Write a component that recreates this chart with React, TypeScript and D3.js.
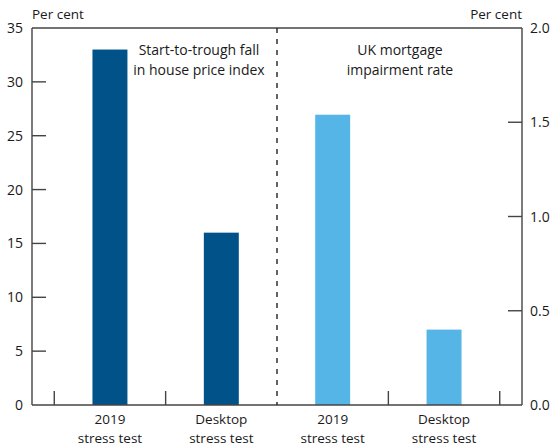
import React from "react";
import * as d3 from "d3";

const categories = ["2019 stress test (HPI)", "Desktop stress test (HPI)", "2019 stress test (impairment)", "Desktop stress test (impairment)"];
const categoryLines = [["2019", "stress test"], ["Desktop", "stress test"], ["2019", "stress test"], ["Desktop", "stress test"]];
const houseFallValues = [33, 16]; // left axis, per cent
const impairmentValues = [1.54, 0.4]; // right axis, per cent
const leftTicks = [0, 5, 10, 15, 20, 25, 30, 35];
const rightTicks = [0, 0.5, 1.0, 1.5, 2.0];

const W = 553;
const H = 446;
const L = 32;
const R = 522;
const T = 28;
const B = 405;
const FONT = "'Open Sans', 'Noto Sans', sans-serif";
const AXIS = "#444";
const TEXT = "#1a1a1a";
const DARK = "#005288";
const LIGHT = "#56B5E7";

export default function App() {
  const x = d3.scaleBand<string>().domain(categories).range([L, R]).paddingInner(0).paddingOuter(0.2);
  const yL = d3.scaleLinear().domain([0, 35]).range([B, T]);
  const yR = d3.scaleLinear().domain([0, 2]).range([B, T]);
  const step = x.step();
  const bw = step * 0.314;
  const edges = [...categories.map((c) => x(c)!), x(categories[3])! + step];
  const mid = edges[2];

  const bars = [
    ...houseFallValues.map((v, i) => ({ cat: categories[i], y: yL(v), color: DARK })),
    ...impairmentValues.map((v, i) => ({ cat: categories[i + 2], y: yR(v), color: LIGHT })),
  ];

  return (
    <svg width={W} height={H} style={{ position: "absolute", left: 0, top: 0 }} fontFamily={FONT}>
      <rect width={W} height={H} fill="#fff" />
      {bars.map((b, i) => (
        <rect key={i} x={x(b.cat)! + step / 2 - bw / 2} y={b.y} width={bw} height={B - b.y} fill={b.color} />
      ))}
      {/* frame */}
      <line x1={L} x2={R} y1={T} y2={T} stroke={AXIS} strokeWidth={1.4} />
      <line x1={L} x2={L} y1={T} y2={B} stroke={AXIS} strokeWidth={1.4} />
      <line x1={R} x2={R} y1={T} y2={B} stroke={AXIS} strokeWidth={1.4} />
      <line x1={L} x2={R} y1={B} y2={B} stroke={AXIS} strokeWidth={1.4} />
      {/* divider */}
      <line x1={mid} x2={mid} y1={T} y2={B} stroke="#222" strokeWidth={1.4} strokeDasharray="5,6" />
      {/* bottom ticks */}
      {edges.filter((_, i) => i !== 2).map((e, i) => (
        <line key={i} x1={e} x2={e} y1={B} y2={B - 14} stroke={AXIS} strokeWidth={1.4} />
      ))}
      {/* left ticks */}
      {leftTicks.map((t) => (
        <g key={t}>
          {t > 0 && t < 35 && <line x1={L} x2={L + 14} y1={yL(t)} y2={yL(t)} stroke={AXIS} strokeWidth={1.4} />}
          <text x={L - 9} y={yL(t)} dy="0.36em" textAnchor="end" fontSize={14} fill={TEXT}>{t}</text>
        </g>
      ))}
      {/* right ticks */}
      {rightTicks.map((t) => (
        <g key={t}>
          {t > 0 && t < 2 && <line x1={R - 14} x2={R} y1={yR(t)} y2={yR(t)} stroke={AXIS} strokeWidth={1.4} />}
          <text x={R + 8} y={yR(t)} dy="0.36em" textAnchor="start" fontSize={14} fill={TEXT}>{t.toFixed(1)}</text>
        </g>
      ))}
      <text x={L} y={19} fontSize={13.5} fill={TEXT}>Per cent</text>
      <text x={R} y={19} fontSize={13.5} fill={TEXT} textAnchor="end">Per cent</text>
      {/* annotations */}
      <text x={199} y={55} fontSize={14} fill={TEXT} textAnchor="middle">Start-to-trough fall</text>
      <text x={199} y={75} fontSize={14} fill={TEXT} textAnchor="middle">in house price index</text>
      <text x={400} y={55} fontSize={14} fill={TEXT} textAnchor="middle">UK mortgage</text>
      <text x={400} y={75} fontSize={14} fill={TEXT} textAnchor="middle">impairment rate</text>
      {/* category labels */}
      {categories.map((c, i) => (
        <text key={c} x={x(c)! + step / 2} fontSize={13.5} fill={TEXT} textAnchor="middle">
          <tspan x={x(c)! + step / 2} y={424}>{categoryLines[i][0]}</tspan>
          <tspan x={x(c)! + step / 2} y={443}>{categoryLines[i][1]}</tspan>
        </text>
      ))}
    </svg>
  );
}
